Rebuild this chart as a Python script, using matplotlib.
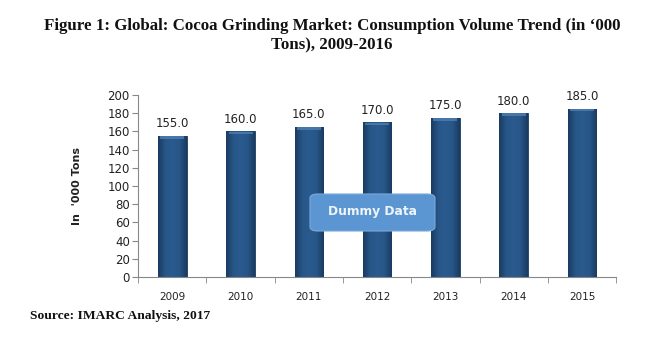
import matplotlib
matplotlib.use("Agg")
import matplotlib.pyplot as plt
from matplotlib.patches import FancyBboxPatch
from matplotlib.colors import LinearSegmentedColormap
import numpy as np

years = ["2009", "2010", "2011", "2012", "2013", "2014", "2015"]
values = [155.0, 160.0, 165.0, 170.0, 175.0, 180.0, 185.0]
yticks = [0, 20, 40, 60, 80, 100, 120, 140, 160, 180, 200]

fig = plt.figure(figsize=(6.64, 3.45), dpi=100)
ax = fig.add_axes([0.208, 0.197, 0.72, 0.528])

x = np.arange(len(years))
bars = ax.bar(x, values, width=0.42, color="#24507f", edgecolor="#1b3d63", linewidth=0.6, zorder=2)

# horizontal shading inside each bar (darker edges, lighter centre)
cmap = LinearSegmentedColormap.from_list("barshade", ["#1a3b60", "#275688", "#2b5b8e", "#275688", "#1a3b60"])
grad = np.linspace(0, 1, 64).reshape(1, -1)
for b in bars:
    bx, by = b.get_x(), b.get_y()
    bw, bh = b.get_width(), b.get_height()
    im = ax.imshow(grad, extent=[bx, bx + bw, by, by + bh], aspect="auto", cmap=cmap,
                   origin="lower", zorder=2.5, interpolation="bicubic")
    im.set_clip_path(b)
    # lighter bevel at top
    ax.fill_between([bx + bw * 0.08, bx + bw * 0.92], by + bh - 3.2, by + bh - 0.4,
                    color="#4f7fb0", alpha=0.8, linewidth=0, zorder=2.6)

for xi, v in zip(x, values):
    ax.text(xi, v + 6, f"{v:.1f}", ha="center", va="bottom", fontsize=8.5,
            family="DejaVu Sans", color="#222222")

ax.set_xlim(-0.5, len(years) - 0.5)
ax.set_ylim(0, 200)
ax.set_yticks(yticks)
ax.set_yticklabels([str(t) for t in yticks], fontsize=8.5, color="#222222")
ax.set_xticks(x)
ax.set_xticklabels(years, fontsize=7.5, color="#222222")
ax.tick_params(axis="x", which="major", length=0, pad=11)
ax.set_xticks(np.arange(-0.5, len(years)), minor=True)
ax.tick_params(axis="x", which="minor", length=4, color="#888888", direction="out")
ax.tick_params(axis="y", length=4, color="#888888", pad=2)
for s in ["top", "right"]:
    ax.spines[s].set_visible(False)
for s in ["left", "bottom"]:
    ax.spines[s].set_color("#888888")
    ax.spines[s].set_linewidth(0.8)

ax.set_ylabel("In  '000 Tons", fontsize=8, fontweight="bold", labelpad=18, color="#222222")

fig.text(0.5, (345 - 35.5) / 345,
         "Figure 1: Global: Cocoa Grinding Market: Consumption Volume Trend (in \u2018000\nTons), 2009-2016",
         ha="center", va="center", fontsize=12.2, fontweight="bold", family="Liberation Serif",
         linespacing=1.25, color="#111111")

fig.text(0.045, (345 - 316) / 345, "Source: IMARC Analysis, 2017", ha="left", va="center", fontsize=9.7,
         fontweight="bold", family="Liberation Serif", color="#111111")

box = FancyBboxPatch((310 / 664, (345 - 231) / 345), 125 / 664, 37 / 345,
                     boxstyle="round,pad=0,rounding_size=0.012", transform=fig.transFigure,
                     facecolor="#5b96d2", edgecolor="#7aaadb", linewidth=0.8, zorder=10)
fig.add_artist(box)
fig.text(372.5 / 664, (345 - 212) / 345, "Dummy Data", ha="center", va="center", fontsize=8.8,
         fontweight="bold", color="#eef4fb", zorder=11)

fig.savefig("out.png", dpi=100, facecolor="white")
